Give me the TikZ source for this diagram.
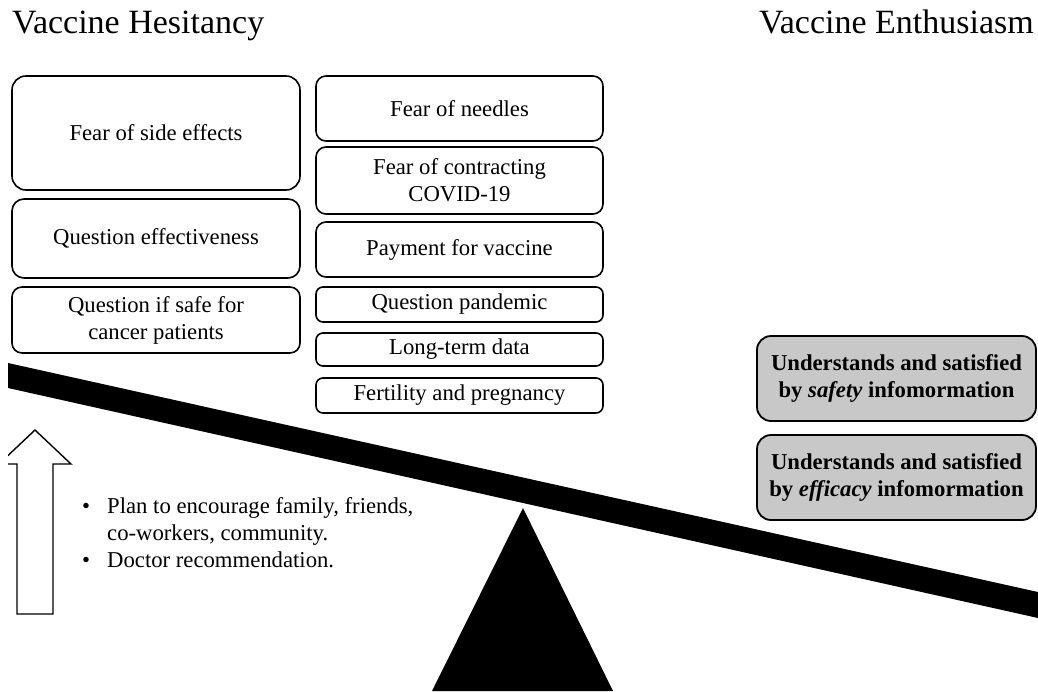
\documentclass[tikz,border=0pt]{standalone}
\usepackage{fontspec}
\setmainfont{Liberation Serif}
\definecolor{boxgray}{RGB}{200,200,200}
\tikzset{
  rbox/.style={draw=black, line width=1.6pt, rounded corners=10pt, align=center,
    inner sep=0pt, font=\fontsize{22.7}{27}\selectfont},
  gbox/.style={rbox, fill=boxgray, line width=1.8pt, rounded corners=14pt,
    font=\fontsize{22.7}{27}\selectfont\bfseries},
  title/.style={inner sep=0pt, font=\fontsize{34}{40}\selectfont},
  blockarrow/.style={draw=black, line width=1.4pt, line join=miter, fill=white}
}
\begin{document}
\begin{tikzpicture}[x=1pt,y=-1pt]
\useasboundingbox (0,0) rectangle (1038,691);

% titles
\node[title, anchor=base west] (th) at (12,33) {Vaccine Hesitancy};
\node[title, anchor=base east] (te) at (1034,33) {Vaccine Enthusiasm};

% left column
\node[rbox, rounded corners=14pt, minimum width=288pt, minimum height=114pt] (l1) at (156,133) {Fear of side effects};
\node[rbox, rounded corners=12pt, minimum width=288pt, minimum height=79pt] (l2) at (156,238.5) {Question effectiveness};
\node[rbox, minimum width=288pt, minimum height=66pt] (l3) at (156,320) {Question if safe for\\cancer patients};

% middle column
\node[rbox, minimum width=287pt, minimum height=65pt] (m1) at (459.5,108.5) {Fear of needles};
\node[rbox, minimum width=287pt, minimum height=67pt] (m2) at (459.5,180.5) {Fear of contracting\\COVID-19};
\node[rbox, minimum width=287pt, minimum height=55pt] (m3) at (459.5,249.5) {Payment for vaccine};
\node[rbox, rounded corners=7pt, minimum width=287pt, minimum height=35pt] (m4) at (459.5,304.5) {Question pandemic};
\node[rbox, rounded corners=7pt, minimum width=287pt, minimum height=33pt] (m5) at (459.5,349.5) {Long-term data};
\node[rbox, rounded corners=7pt, minimum width=287pt, minimum height=35pt] (m6) at (459.5,395.5) {Fertility and pregnancy};

% right gray boxes
\node[gbox, minimum width=279pt, minimum height=85pt] (r1) at (896.5,378.5) {Understands and satisfied\\by \textit{safety} infomormation};
\node[gbox, minimum width=279pt, minimum height=85pt] (r2) at (896.5,477.5) {Understands and satisfied\\by \textit{efficacy} infomormation};

% beam and fulcrum
\begin{scope}
\clip (8,0) rectangle (1038,691);
\fill[black] (8,363) -- (1038,592) -- (1038,618) -- (8,388) -- cycle;
\fill[black] (523,508) -- (613,691) -- (432,691) -- cycle;
\draw[blockarrow] (17,614) -- (17,464) -- (-1,464) -- (35,430) -- (71,464) -- (53,464) -- (53,614) -- cycle;
\end{scope}

% bullet text
\node[anchor=base west, inner sep=0pt, font=\fontsize{22.7}{27}\selectfont] (bul) at (82,513)
{\begin{tabular}[t]{@{}l@{}l@{}}
\makebox[25pt][l]{•} & Plan to encourage family, friends,\\
 & co-workers, community.\\
\makebox[25pt][l]{•} & Doctor recommendation.
\end{tabular}};
\end{tikzpicture}
\end{document}
